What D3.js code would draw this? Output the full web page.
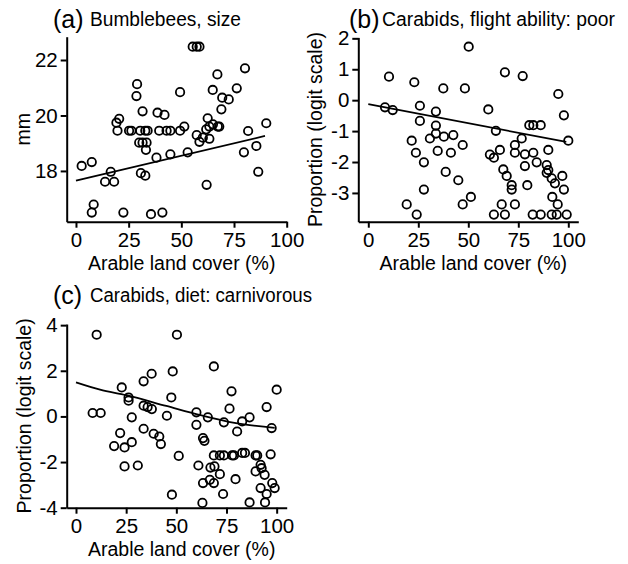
<!DOCTYPE html>
<html>
<head>
<meta charset="utf-8">
<script src="https://cdn.jsdelivr.net/npm/d3@7"></script>
<style>
  body { margin: 0; background: #fff; }
  text { font-family: "Liberation Sans", Arial, sans-serif; fill: #000; }
</style>
</head>
<body>
<svg id="chart" width="628" height="564"></svg>
<script>
// x ticks shared by all panels
var xTicks = [0, 25, 50, 75, 100];

// (a) bumblebees, body size (mm)
var beeLand = [2.7,7.5,8.4,7.5,16.5,13.8,18.1,19.2,20.5,19.7,25.2,26.3,22.5,29,28.7,31.6,30.5,32.9,34,30,31.6,33.5,33.2,30.8,32.9,35.6,41,38.2,38.7,42,39.5,43,44.8,44.8,49.4,49.4,51.4,53,55.4,57.3,58.6,57.3,58.6,60.2,62,62.5,61.8,63.3,65,67.3,68,63.3,64.9,67.1,69,69.4,72.5,76.3,80.2,81.7,79.7,85.6,86.5,90.3];
var beeSize = [18.18,18.32,16.79,16.5,17.97,17.61,17.61,19.74,19.88,19.45,19.45,19.45,16.5,21.13,20.7,20.15,19.45,19.45,19.45,19.02,19.02,19.02,18.76,17.92,17.83,16.44,16.5,18.48,20.1,20.02,19.45,19.45,19.45,18.6,20.84,19.45,19.6,18.67,22.48,22.48,22.48,19.29,19.05,19.2,17.5,19.9,19.5,19.6,19.68,19.6,19.6,19.16,20.92,21.48,20.22,20.64,20.58,20.98,21.7,19.44,18.67,18.9,17.97,19.72];
var beeFitX = [0, 89.7];
var beeFitY = [17.65, 19.26];
var beeTicks = [18, 20, 22];

// (b) carabids, poor flight ability (logit)
var flightLand = [10.35,8.35,12.2,23,25.8,25.8,33.8,33.8,33.8,30.8,37.8,42.5,47.2,21.7,23.8,27.8,34.7,41.3,38.7,45,27.8,19.2,24.2,37.5,48.3,50.2,47.2,51.3,60,63.8,60.8,62.8,65.8,68.3,77.2,67.5,69.2,71.7,71.7,62.8,68.3,66.7,73.3,73.3,73.3,76.7,78.3,78.3,79.5,82.5,84.2,80.5,82.5,86.2,82.2,86.2,90,89.2,90,89.2,91.7,93.3,92,94.7,91.7,94.2,99.2,95,97.8,100,97,97.8];
var flightLogit = [0.76,-0.23,-0.32,0.58,-0.18,-0.67,-0.37,-0.82,-1.08,-1.24,-1.18,-1.13,-1.45,-1.31,-1.7,-2.01,-1.64,-1.7,-2.32,-2.59,-2.89,-3.37,-3.7,0.38,0.38,1.73,-3.37,-3.13,-0.3,-0.99,-1.76,-1.86,-1.61,0.9,0.78,-2.24,-2.45,-2.75,-2.89,-3.7,-3.7,-3.37,-3.37,-1.45,-1.7,-1.24,-1.75,-2.13,-2.75,-1.7,-2.01,-0.81,-0.81,-0.81,-3.7,-3.7,-1.61,-2.1,-2.26,-2.35,-2.53,-2.69,-3.13,-3.37,-3.7,-3.7,-3.7,0.2,-0.49,-1.31,-2.45,-2.89];
var flightFitX = [0, 99];
var flightFitY = [-0.13, -1.35];
var flightTicks = [-3, -2, -1, 0, 1, 2];

// (c) carabids, carnivorous diet (logit)
var dietLand = [10.3,50.3,8.3,12.3,22.8,26.2,26.2,33.7,37.7,33.7,35.7,37.8,27.8,22,19,24.2,27.8,24.2,30.8,33.7,38.7,41.5,42.3,48.2,47.5,45.3,47.8,51.2,60,60,65.7,63.3,64,68.7,61,63.3,63,73.7,77.5,76.5,80.3,82.8,86.5,95,100,97.5,68.7,71.7,73.7,77.8,78.7,82.8,84.2,89.5,90.3,97,67,69,71.7,66.7,68.7,73.3,79.5,86.5,89.5,92,92.5,94,92,95,94.2,97.8,99];
var dietLogit = [3.58,3.58,0.15,0.15,1.27,0.83,0.69,1.54,1.87,0.47,0.41,0.32,-0.04,-0.73,-1.3,-1.36,-1.13,-2.19,-2.15,-0.54,-0.76,-0.88,-1.21,1.97,0.83,0.03,-3.43,-1.73,0.18,-0.37,-0.04,-0.95,-1.07,2.19,-2.15,-2.92,-3.79,-0.26,1.1,0.34,-0.66,-0.22,-0.04,0.41,1.17,-0.51,-1.71,-1.71,-1.71,-1.71,-1.71,-1.6,-1.6,-1.71,-1.71,-1.66,-2.24,-2.19,-2.53,-2.78,-2.92,-3.4,-2.75,-3.77,-2.41,-2.12,-2.27,-2.56,-3.14,-3.4,-3.77,-2.92,-3.14];
var dietFitX = [0, 12, 25, 45, 62, 79, 99];
var dietFitY = [1.49, 1.17, 0.93, 0.46, 0.06, -0.28, -0.5];
var dietTicks = [-4, -2, 0, 2, 4];

var svg = d3.select('#chart');

/*
 * One scatter panel with axes, points, fitted line and titles
 */
drawPanel = function(p) {
    var g = svg.append('g');
    var x = d3.scaleLinear().domain(p.xDomain).range(p.xRange);
    var y = d3.scaleLinear().domain(p.yDomain).range(p.yRange);
    var fmt = function(d) { return String(d); };

    var xa = g.append('g')
        .attr('transform', 'translate(0,' + p.yRange[0] + ')')
        .call(d3.axisBottom(x).tickValues(xTicks).tickFormat(fmt)
            .tickSize(6).tickSizeOuter(0).tickPadding(5));
    var ya = g.append('g')
        .attr('transform', 'translate(' + p.xRange[0] + ',0)')
        .call(d3.axisLeft(y).tickValues(p.yTicks).tickFormat(fmt)
            .tickSize(6).tickSizeOuter(0).tickPadding(3));
    [xa, ya].forEach(function(a) {
        a.attr('font-size', 20.5).attr('font-family', '"Liberation Sans", Arial, sans-serif');
        a.selectAll('path, line').attr('stroke', '#000').attr('stroke-width', 2);
        a.selectAll('text').attr('fill', '#000');
    });

    g.selectAll('circle.pt')
        .data(p.xs.map(function(v, i) { return [v, p.ys[i]]; }))
        .enter().append('circle')
            .attr('class', 'pt')
            .attr('cx', function(d) { return x(d[0]); })
            .attr('cy', function(d) { return y(d[1]); })
            .attr('r', 4.2)
            .attr('fill', 'none')
            .attr('stroke', '#000')
            .attr('stroke-width', 1.8);

    var line = d3.line()
        .x(function(d) { return x(d[0]); })
        .y(function(d) { return y(d[1]); })
        .curve(d3.curveMonotoneX);
    g.append('path')
        .attr('d', line(p.fitX.map(function(v, i) { return [v, p.fitY[i]]; })))
        .attr('fill', 'none')
        .attr('stroke', '#000')
        .attr('stroke-width', 1.8);

    // panel letter and title
    g.append('text').attr('x', p.letterX).attr('y', p.titleY + 2)
        .attr('font-size', 25).text(p.letter);
    g.append('text').attr('x', p.titleX).attr('y', p.titleY)
        .attr('font-size', 19.5)
        .attr('textLength', p.titleW).attr('lengthAdjust', 'spacingAndGlyphs')
        .text(p.title);

    // axis titles
    g.append('text')
        .attr('x', (p.xRange[0] + p.xRange[1]) / 2 + 5)
        .attr('y', p.yRange[0] + 48)
        .attr('text-anchor', 'middle')
        .attr('font-size', 19.5)
        .text('Arable land cover (%)');
    g.append('text')
        .attr('transform', 'translate(' + p.yTitleX + ',' + (p.yRange[0] + p.yRange[1]) / 2 + ') rotate(-90)')
        .attr('text-anchor', 'middle')
        .attr('font-size', 19.5)
        .text(p.yTitle);
}

drawPanel({
    letter: '(a)', title: 'Bumblebees, size', letterX: 53, titleX: 90, titleW: 151, titleY: 26,
    xs: beeLand, ys: beeSize, fitX: beeFitX, fitY: beeFitY, yTicks: beeTicks,
    xDomain: [-4.4, 100], xRange: [66.7, 286.7],
    yDomain: [16.17, 22.84], yRange: [221.7, 36.7],
    yTitle: 'mm', yTitleX: 30
});
drawPanel({
    letter: '(b)', title: 'Carabids, flight ability: poor', letterX: 349, titleX: 382, titleW: 233, titleY: 26,
    xs: flightLand, ys: flightLogit, fitX: flightFitX, fitY: flightFitY, yTicks: flightTicks,
    xDomain: [-5, 105], xRange: [358.3, 578.3],
    yDomain: [-3.93, 2.03], yRange: [221.7, 37.4],
    yTitle: 'Proportion (logit scale)', yTitleX: 322
});
drawPanel({
    letter: '(c)', title: 'Carabids, diet: carnivorous', letterX: 53, titleX: 90, titleW: 222, titleY: 302,
    xs: dietLand, ys: dietLogit, fitX: dietFitX, fitY: dietFitY, yTicks: dietTicks,
    xDomain: [-4.63, 105], xRange: [66.7, 286.7],
    yDomain: [-4, 4.05], yRange: [507.7, 324],
    yTitle: 'Proportion (logit scale)', yTitleX: 31
});
</script>
</body>
</html>
